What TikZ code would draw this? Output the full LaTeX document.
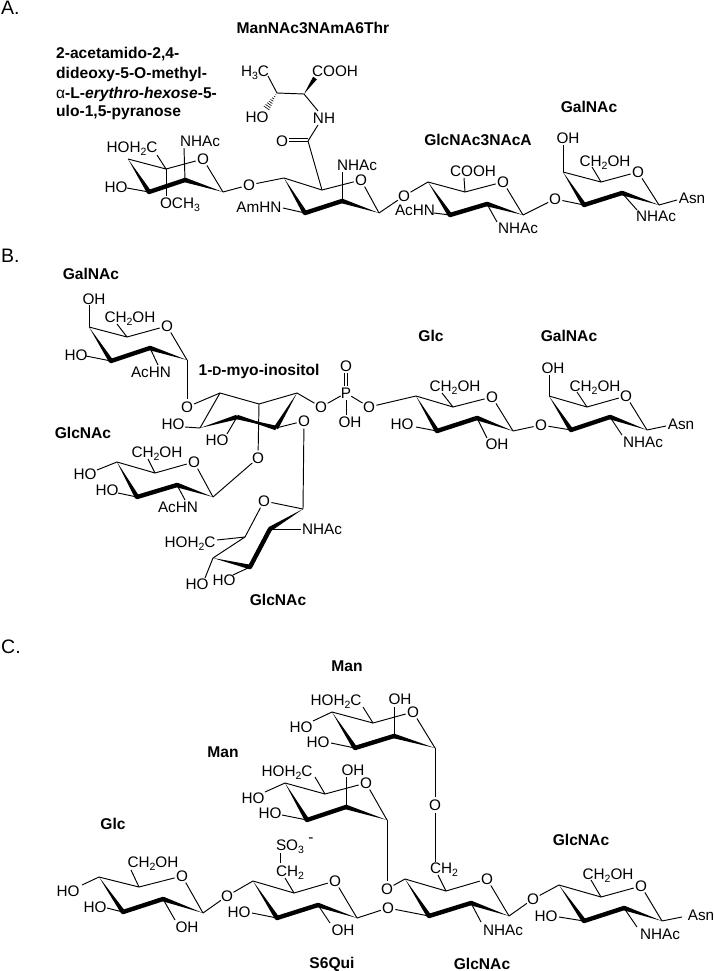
\documentclass[tikz,border=0pt]{standalone}
\usepackage{fontspec}
\setmainfont{Liberation Sans}
\usetikzlibrary{calc}
\newcommand{\subs}[1]{\raisebox{-3pt}{\fontsize{10.5}{10.5}\selectfont #1}}
\newcommand{\wedgeb}[2]{\fill ($(#1)$) -- ($(#2)!2.3pt!90:(#1)$) -- ($(#2)!2.3pt!-90:(#1)$) -- cycle;}
\newcommand{\thickb}[2]{\draw[line width=4.4pt,line cap=round] (#1) -- (#2);}
\newcommand{\sugar}[7]{%
  \coordinate (#1a) at #2; \coordinate (#1b) at #3; \coordinate (#1c) at #5;
  \coordinate (#1d) at #6; \coordinate (#1e) at #7;
  \node[atom] (#1O) at #4 {O};
  \draw[bond] (#1a) -- (#1b); \draw[bond] (#1b) -- (#1O); \draw[bond] (#1O) -- (#1c);
  \wedgeb{#1c}{#1d} \thickb{#1d}{#1e} \wedgeb{#1a}{#1e}}
\tikzset{
  bond/.style={line width=0.95pt},
  lab/.style={font=\fontsize{15.3}{15.3}\selectfont,inner sep=0pt,text height=10.9pt,text depth=0pt},
  atom/.style={lab,circle,inner sep=-0.5pt},
  glyname/.style={font=\fontsize{15.6}{15.6}\selectfont\bfseries,inner sep=0pt,text height=11.2pt,text depth=0pt},
  panel/.style={font=\fontsize{19.5}{19.5}\selectfont,inner sep=0pt,anchor=west,text height=14pt,text depth=0pt}
}
\begin{document}
\begin{tikzpicture}[x=1pt,y=-1pt]
\useasboundingbox (0,0) rectangle (714,971);
\fill[white] (0,0) rectangle (714,971);
% ---------- panel labels
\node[panel] (pA) at (1,8) {A.};
\node[panel] (pB) at (1,255) {B.};
\node[panel] (pC) at (1,646) {C.};
% ---------- PANEL A
\node[glyname] (nA1) at (313,28) {ManNAc3NAmA6Thr};
\node[glyname,anchor=west] (nA2) at (56,53) {2-acetamido-2,4-};
\node[glyname,anchor=west] (nA3) at (56,73) {dideoxy-5-O-methyl-};
\node[glyname,anchor=west] (nA4) at (56,92.5) {{\mdseries α}-L-{\itshape erythro-hexose}-5-};
\node[glyname,anchor=west] (nA5) at (56,111) {ulo-1,5-pyranose};
\node[glyname] (nA6) at (478,140) {GlcNAc3NAcA};
\node[glyname] (nA7) at (589,107) {GalNAc};
\sugar{a1}{(128,159)}{(166,169)}{(203,159)}{(223,192)}{(185,180)}{(149,192)}
\node[lab] (a1l1) at (132,147) {HOH\subs{2}C};
\node[lab] (a1l2) at (200,141) {NHAc};
\node[lab] (a1l3) at (180,203) {OCH\subs{3}};
\node[lab] (a1l4) at (116,187) {HO};
\draw[bond] (a1b) -- (157,155);
\draw[bond] (a1d) -- (184,148);
\draw[bond] (a1b) -- (166,196);
\draw[bond] (a1e) -- (127,188);
\node[atom] (aO12) at (249,185) {O};
\draw[bond] (a1c) -- (aO12);
\sugar{a2}{(284,178)}{(322,190)}{(361,180)}{(379,213)}{(342,201)}{(305,213)}
\draw[bond] (aO12) -- (a2a);
\node[lab] (a2l1) at (259,207) {AmHN};
\draw[bond] (a2e) -- (283,208);
\node[lab] (a2l2) at (357,165) {NHAc};
\draw[bond] (a2d) -- (342,172);
\coordinate (aCO) at (308,141);
\draw[bond] (a2b) -- (aCO);
\node[atom] (aOdb) at (282,141) {O};
\draw[bond] (aCO) -- (289,141);
\draw[bond] ($(aCO)+(0,-3)$) -- (289,138);
\node[lab] (aNH) at (324,118) {NH};
\draw[bond] (aCO) -- (318,125);
\coordinate (aCa) at (304,94);
\coordinate (aCb) at (277,93);
\draw[bond] (aCa) -- (318,111);
\draw[bond] (aCa) -- (aCb);
\node[lab] (aH3C) at (255,71) {H\subs{3}C};
\draw[bond] (aCb) -- (268,76);
\node[lab] (aCOOH) at (335,71) {COOH};
\coordinate (aCw) at (315,78);
\wedgeb{aCa}{aCw}
\node[lab] (aHO) at (257,117) {HO};
\foreach \t in {.1,.22,.34,.46,.58,.7,.82,.94}
  \draw[line width=0.6pt] ({277-11*\t-3*\t},{93+16*\t-2.1*\t}) -- ({277-11*\t+3*\t},{93+16*\t+2.1*\t});
\node[atom] (aO23) at (404,196) {O};
\draw[bond] (a2c) -- (aO23);
\sugar{a3}{(428,182)}{(465,192)}{(503,182)}{(523,215)}{(487,204)}{(450,215)}
\draw[bond] (aO23) -- (a3a);
\node[lab] (a3l1) at (473,171) {COOH};
\draw[bond] (a3b) -- (464,178);
\node[lab] (a3l2) at (415,210) {AcHN};
\draw[bond] (a3e) -- (434,213);
\node[lab] (a3l3) at (518,228) {NHAc};
\draw[bond] (a3d) -- (497,222);
\node[atom] (aO34) at (555,199) {O};
\draw[bond] (a3c) -- (aO34);
\sugar{a4}{(563,172)}{(601,182)}{(638,172)}{(659,205)}{(622,193)}{(584,205)}
\draw[bond] (aO34) -- (a4e);
\node[lab] (a4l1) at (568,138) {OH};
\draw[bond] (a4a) -- (563,145);
\node[lab] (a4l2) at (605,161) {CH\subs{2}OH};
\draw[bond] (a4b) -- (592,167);
\node[lab] (a4l3) at (656,216) {NHAc};
\draw[bond] (a4d) -- (637,210);
\node[lab] (a4l4) at (692,198) {Asn};
\draw[bond] (a4c) -- (677,200);
% ---------- PANEL B
\node[glyname] (nB1) at (91,274) {GalNAc};
\node[glyname] (nB2) at (259,370) {1-{\fontsize{12.5}{12.5}\selectfont D}-myo-inositol};
\node[glyname] (nB3) at (83,433) {GlcNAc};
\node[glyname] (nB4) at (278,600) {GlcNAc};
\node[glyname] (nB5) at (431,336) {Glc};
\node[glyname] (nB6) at (569,336) {GalNAc};
\sugar{b1}{(89,327)}{(127,337)}{(167,326)}{(187,360)}{(150,348)}{(111,361)}
\node[lab] (b1l1) at (94,299) {OH};
\draw[bond] (b1a) -- (89,305);
\node[lab] (b1l2) at (130,317) {CH\subs{2}OH};
\draw[bond] (b1b) -- (117,324);
\node[lab] (b1l3) at (76,355) {HO};
\draw[bond] (b1e) -- (86,356);
\node[lab] (b1l4) at (151,372) {AcHN};
\draw[bond] (b1d) -- (158,365);
\node[atom] (bOa) at (187,407) {O};
\draw[bond] (b1c) -- (bOa);
% inositol
\coordinate (p1) at (220,393); \coordinate (p2) at (259,404); \coordinate (p3) at (297,393);
\coordinate (p4) at (276,428); \coordinate (p5) at (237,417); \coordinate (p6) at (200,428);
\draw[bond] (bOa) -- (p1);
\draw[bond] (p1) -- (p2); \draw[bond] (p2) -- (p3); \draw[bond] (p6) -- (p1);
\wedgeb{p3}{p4} \wedgeb{p6}{p5}
\wedgeb{p4}{p5} \wedgeb{p5}{p4}
\node[lab] (bHO1) at (173,424) {HO};
\draw[bond] (p6) -- (185,427);
\node[lab] (bHO2) at (217,440) {HO};
\draw[bond] (p5) -- (227,434);
\node[atom] (bOb) at (258,458) {O};
\draw[bond] (p2) -- (bOb);
\node[atom] (bOc) at (304,421) {O};
\draw[bond] (p4) -- (bOc);
\node[atom] (bOd) at (321,407) {O};
\draw[bond] (p3) -- (bOd);
\node[lab] (bP) at (346,393) {P};
\draw[bond] (bOd) -- (bP);
\node[atom] (bPO) at (346,366) {O};
\draw[bond] (344.4,373) -- (344.4,386);
\draw[bond] (347.8,373) -- (347.8,386);
\node[lab] (bPOH) at (350,422) {OH};
\draw[bond] (346,400) -- (346,415);
\node[atom] (bOe) at (369,407) {O};
\draw[bond] (bP) -- (bOe);
% left GlcNAc
\sugar{b2}{(117,462)}{(155,473)}{(194,462)}{(213,497)}{(177,485)}{(137,497)}
\draw[bond] (bOb) -- (b2c);
\node[lab] (b2l1) at (85,474) {HO};
\draw[bond] (b2a) -- (97,470);
\node[lab] (b2l2) at (107,490) {HO};
\draw[bond] (b2e) -- (118,493);
\node[lab] (b2l3) at (157,452) {CH\subs{2}OH};
\draw[bond] (b2b) -- (148,459);
\node[lab] (b2l4) at (178,507) {AcHN};
\draw[bond] (b2d) -- (185,500);
% bottom GlcNAc
\sugar{b3}{(213,558)}{(245,537)}{(264,501)}{(303,509)}{(270,529)}{(250,567)}
\draw[bond] (bOc) -- (b3c);
\node[lab] (b3l1) at (190,542) {HOH\subs{2}C};
\draw[bond] (b3b) -- (217,540);
\node[lab] (b3l2) at (322,529) {NHAc};
\draw[bond] (b3d) -- (301,529);
\node[lab] (b3l3) at (197,584) {HO};
\draw[bond] (b3a) -- (205,578);
\node[lab] (b3l4) at (224,580) {HO};
\draw[bond] (b3e) -- (233,575);
% Glc
\sugar{b4}{(416,396)}{(453,407)}{(492,397)}{(513,431)}{(477,418)}{(437,431)}
\draw[bond] (bOe) -- (b4a);
\node[lab] (b4l1) at (455,386) {CH\subs{2}OH};
\draw[bond] (b4b) -- (442,393);
\node[lab] (b4l2) at (402,424) {HO};
\draw[bond] (b4e) -- (416,427);
\node[lab] (b4l3) at (497,444) {OH};
\draw[bond] (b4d) -- (487,438);
\node[atom] (bOf) at (541,425) {O};
\draw[bond] (b4c) -- (bOf);
% GalNAc
\sugar{b5}{(549,396)}{(587,407)}{(626,396)}{(647,430)}{(610,417)}{(571,430)}
\draw[bond] (bOf) -- (b5e);
\node[lab] (b5l1) at (553,368) {OH};
\draw[bond] (b5a) -- (549,375);
\node[lab] (b5l2) at (595,386) {CH\subs{2}OH};
\draw[bond] (b5b) -- (577,392);
\node[lab] (b5l3) at (643,442) {NHAc};
\draw[bond] (b5d) -- (622,435);
\node[lab] (b5l4) at (681,424) {Asn};
\draw[bond] (b5c) -- (666,426);
% ---------- PANEL C
\node[glyname] (nC1) at (347,666) {Man};
\node[glyname] (nC2) at (223,752) {Man};
\node[glyname] (nC3) at (113,824) {Glc};
\node[glyname] (nC4) at (581,840) {GlcNAc};
\node[glyname] (nC5) at (332,963) {S6Qui};
\node[glyname] (nC6) at (482,964) {GlcNAc};
% upper Man
\sugar{c1}{(332,712)}{(373,723)}{(413,712)}{(435,748)}{(394,736)}{(355,748)}
\node[lab] (c1l1) at (336,700) {HOH\subs{2}C};
\draw[bond] (c1b) -- (363,707);
\node[lab] (c1l2) at (400,699) {OH};
\draw[bond] (c1d) -- (394,707);
\node[lab] (c1l3) at (301,727) {HO};
\draw[bond] (c1a) -- (313,721);
\node[lab] (c1l4) at (318,742) {HO};
\draw[bond] (c1e) -- (331,743);
\node[atom] (cOa) at (435,805) {O};
\draw[bond] (c1c) -- (cOa);
\node[lab] (cCH2a) at (444,868) {CH\subs{2}};
\draw[bond] (cOa) -- (435,862);
% lower Man
\sugar{c2}{(285,783)}{(325,794)}{(366,783)}{(387,820)}{(346,807)}{(307,820)}
\node[lab] (c2l1) at (287,771) {HOH\subs{2}C};
\draw[bond] (c2b) -- (315,777);
\node[lab] (c2l2) at (353,770) {OH};
\draw[bond] (c2d) -- (346,777);
\node[lab] (c2l3) at (253,798) {HO};
\draw[bond] (c2a) -- (265,792);
\node[lab] (c2l4) at (270,813) {HO};
\draw[bond] (c2e) -- (282,815);
\node[atom] (cOb) at (387,889) {O};
\draw[bond] (c2c) -- (cOb);
% central GlcNAc
\sugar{c3}{(405,879)}{(446,891)}{(487,879)}{(509,916)}{(471,903)}{(429,916)}
\draw[bond] (cOb) -- (c3a);
\draw[bond] (c3b) -- (438,875);
\node[atom] (cOc) at (388,908) {O};
\draw[bond] (cOc) -- (c3e);
\node[lab] (c3l1) at (503,930) {NHAc};
\draw[bond] (c3d) -- (481,922);
% S6Qui
\sugar{c4}{(253,881)}{(294,893)}{(335,881)}{(357,918)}{(318,905)}{(277,918)}
\draw[bond] (c4c) -- (cOc);
\node[lab] (c4l1) at (290,871) {CH\subs{2}};
\draw[bond] (c4b) -- (285,878);
\node[lab] (c4l2) at (290,845) {SO\subs{3}};
\node[lab,text height=8pt] (c4l2m) at (311,838) {-};
\draw[bond] (280,853) -- (280,863);
\node[lab] (c4l3) at (239,912) {HO};
\draw[bond] (c4e) -- (252,913);
\node[lab] (c4l4) at (343,930) {OH};
\draw[bond] (c4d) -- (330,923);
\node[atom] (cOd) at (227,896) {O};
\draw[bond] (cOd) -- (c4a);
% Glc
\sugar{c5}{(99,877)}{(139,887)}{(182,876)}{(203,913)}{(163,899)}{(123,912)}
\draw[bond] (c5c) -- (cOd);
\node[lab] (c5l1) at (153,862) {CH\subs{2}OH};
\draw[bond] (c5b) -- (131,870);
\node[lab] (c5l2) at (68,891) {HO};
\draw[bond] (c5a) -- (82,885);
\node[lab] (c5l3) at (95,907) {HO};
\draw[bond] (c5e) -- (107,908);
\node[lab] (c5l4) at (187,927) {OH};
\draw[bond] (c5d) -- (175,920);
% right GlcNAc
\node[atom] (cOe) at (533,899) {O};
\draw[bond] (c3c) -- (cOe);
\sugar{c6}{(559,885)}{(601,897)}{(641,886)}{(662,921)}{(624,908)}{(584,921)}
\draw[bond] (cOe) -- (c6a);
\node[lab] (c6l1) at (608,874) {CH\subs{2}OH};
\draw[bond] (c6b) -- (591,880);
\node[lab] (c6l2) at (546,916) {HO};
\draw[bond] (c6e) -- (559,917);
\node[lab] (c6l3) at (660,934) {NHAc};
\draw[bond] (c6d) -- (637,927);
\node[lab] (c6l4) at (701,915) {Asn};
\draw[bond] (c6c) -- (682,917);
\end{tikzpicture}
\end{document}
